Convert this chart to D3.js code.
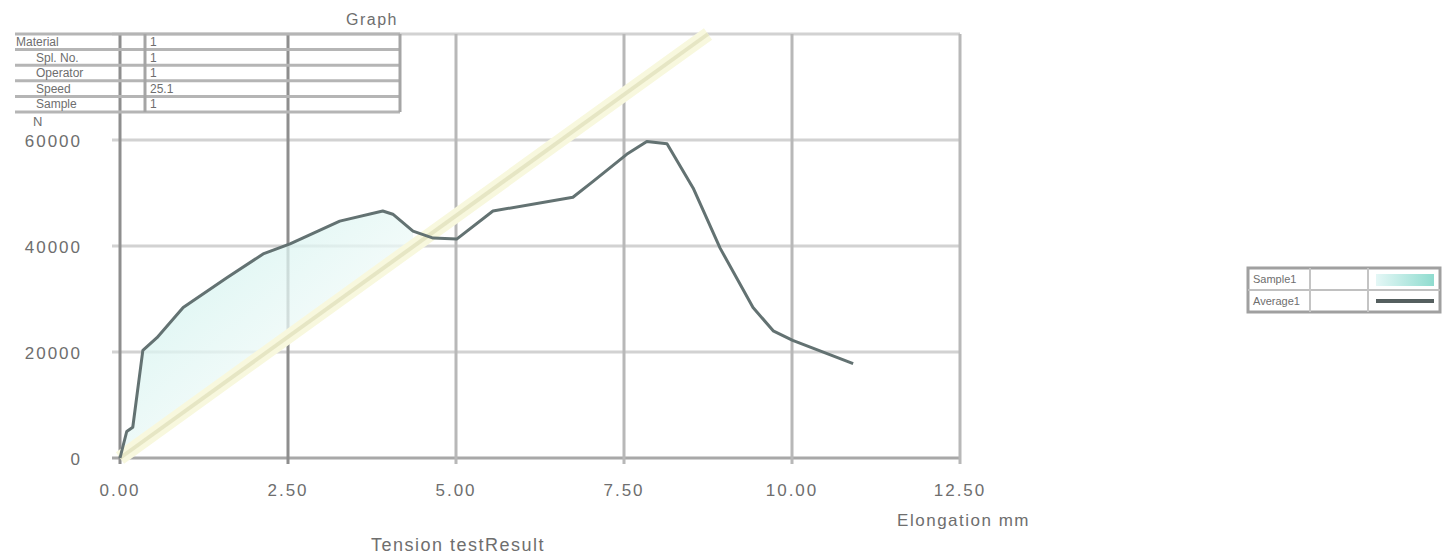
<!DOCTYPE html>
<html>
<head>
<meta charset="utf-8">
<script src="https://cdn.jsdelivr.net/npm/d3@7"></script>
<style>
  html, body { margin: 0; padding: 0; background: #ffffff; }
  svg { display: block; }
  text { font-family: "Liberation Sans", Arial, sans-serif; fill: #6e6e6e; }
</style>
</head>
<body>
<svg id="chart" width="1443" height="556"></svg>
<script>
// ---------------- data ----------------
const title = "Graph";
const xLabel = "Elongation mm";
const bottomLabel = "Tension testResult";
const yUnit = "N";
const xTicks = [0, 2.5, 5, 7.5, 10, 12.5];
const yTicks = [0, 20000, 40000, 60000];
const yGrid = [0, 20000, 40000, 60000, 80000];

// measured force/elongation curve
const elongation = [0, 0.10, 0.19, 0.34, 0.55, 0.94, 1.59, 2.13, 2.53, 3.27, 3.91, 4.06, 4.36, 4.66, 5.01, 5.55, 6.74, 7.04, 7.54, 7.84, 8.14, 8.53, 8.93, 9.42, 9.72, 10.01, 10.91];
const force      = [0, 5000, 5800, 20300, 22700, 28400, 34000, 38500, 40400, 44700, 46600, 46000, 42800, 41500, 41300, 46600, 49200, 52200, 57300, 59700, 59300, 50900, 39600, 28400, 24000, 22200, 17800];

// straight reference (modulus) line
const fitX = [0, 8.75];
const fitY = [0, 80000];

// info table (top-left)
const tableLabels = ["Material", "Spl. No.", "Operator", "Speed", "Sample"];
const tableValues = ["1", "1", "1", "25.1", "1"];

// legend
const legendLabels = ["Sample1", "Average1"];
const legendKinds = ["area", "line"];

// ---------------- drawing ----------------
const svg = d3.select("#chart");
const x = d3.scaleLinear().domain([0, 12.5]).range([120, 960]);
const y = d3.scaleLinear().domain([0, 80000]).range([458, 34]);

const defs = svg.append("defs");
const grad = defs.append("linearGradient").attr("id", "fillGrad")
  .attr("x1", "0").attr("y1", "0").attr("x2", "1").attr("y2", "1");
grad.append("stop").attr("offset", "0%").attr("stop-color", "#c4efea");
grad.append("stop").attr("offset", "55%").attr("stop-color", "#ecf9f7");
grad.append("stop").attr("offset", "100%").attr("stop-color", "#fdfffb");

const legGrad = defs.append("linearGradient").attr("id", "legGrad")
  .attr("x1", "0").attr("y1", "0").attr("x2", "1").attr("y2", "0");
legGrad.append("stop").attr("offset", "0%").attr("stop-color", "#e4f7f6");
legGrad.append("stop").attr("offset", "100%").attr("stop-color", "#8fdccf");

// grid
svg.append("g").selectAll("line").data(yGrid).join("line")
  .attr("x1", x(0) - 8).attr("x2", x(12.5))
  .attr("y1", d => y(d)).attr("y2", d => y(d))
  .attr("stroke", d => d === 0 ? "#a8a8a8" : "#d2d2d2").attr("stroke-width", 3);

svg.append("g").selectAll("line").data(xTicks).join("line")
  .attr("x1", d => x(d)).attr("x2", d => x(d))
  .attr("y1", y(80000)).attr("y2", y(0) + 6)
  .attr("stroke", (d, i) => i < 2 ? "#8e8e8e" : "#b8b8b8").attr("stroke-width", 3);

// fill between curve and the reference line while the curve is above it
const slope = fitY[1] / fitX[1];
const fillPts = [];
for (let i = 0; i < elongation.length; i++) {
  if (force[i] >= slope * elongation[i]) fillPts.push([elongation[i], force[i]]);
  else break;
}
const areaGen = d3.area()
  .x(d => x(d[0]))
  .y0(d => y(Math.min(slope * d[0], d[1])))
  .y1(d => y(d[1]));
svg.append("path").datum(fillPts).attr("d", areaGen)
  .attr("fill", "url(#fillGrad)").attr("opacity", 0.75);

// reference line (soft yellow band)
const fitData = fitX.map((d, i) => [d, fitY[i]]);
const lineGen = d3.line().x(d => x(d[0])).y(d => y(d[1]));
svg.append("path").datum(fitData).attr("d", lineGen)
  .attr("fill", "none").attr("stroke", "#f8f8de").attr("stroke-width", 14);
svg.append("path").datum(fitData).attr("d", lineGen)
  .attr("fill", "none").attr("stroke", "#e6e6c4").attr("stroke-width", 4);

// measured curve
const curve = elongation.map((d, i) => [d, force[i]]);
svg.append("path").datum(curve).attr("d", lineGen)
  .attr("fill", "none").attr("stroke", "#637272").attr("stroke-width", 3)
  .attr("stroke-linejoin", "round");

// axis tick labels
svg.append("g").selectAll("text").data(xTicks).join("text")
  .attr("x", d => x(d)).attr("y", 496)
  .attr("text-anchor", "middle").attr("font-size", 17).attr("letter-spacing", 2)
  .text(d => d3.format(".2f")(d));

svg.append("g").selectAll("text").data(yTicks).join("text")
  .attr("x", 82).attr("y", d => y(d) + 7)
  .attr("text-anchor", "end").attr("font-size", 17).attr("letter-spacing", 2)
  .text(d => String(d));

svg.append("text").attr("x", 33).attr("y", 126).attr("font-size", 13).text(yUnit);

svg.append("text").attr("x", 1030).attr("y", 526).attr("text-anchor", "end")
  .attr("font-size", 17).attr("letter-spacing", 1.5).text(xLabel);
svg.append("text").attr("x", 458).attr("y", 551).attr("text-anchor", "middle")
  .attr("font-size", 18).attr("letter-spacing", 1.5).text(bottomLabel);
svg.append("text").attr("x", 372).attr("y", 25).attr("text-anchor", "middle")
  .attr("font-size", 16).attr("letter-spacing", 1.5).text(title);

// info table
const rowY = d3.scaleBand().domain(d3.range(tableLabels.length)).range([34, 112]);
const tbl = svg.append("g");
tbl.selectAll("line.row").data(d3.range(tableLabels.length + 1)).join("line")
  .attr("x1", 15).attr("x2", 400)
  .attr("y1", i => i < tableLabels.length ? rowY(i) : 112)
  .attr("y2", i => i < tableLabels.length ? rowY(i) : 112)
  .attr("stroke", "#b5b5b5").attr("stroke-width", 3);
[145, 400].forEach(cx => {
  tbl.append("line").attr("x1", cx).attr("x2", cx).attr("y1", 34).attr("y2", 112)
    .attr("stroke", "#a5a5a5").attr("stroke-width", 3);
});
tbl.selectAll("text.lab").data(tableLabels).join("text")
  .attr("x", (d, i) => i === 0 ? 16 : 36).attr("y", (d, i) => rowY(i) + 12)
  .attr("font-size", 12).text(d => d);
tbl.selectAll("text.val").data(tableValues).join("text")
  .attr("x", 150).attr("y", (d, i) => rowY(i) + 12)
  .attr("font-size", 12).text(d => d);

// legend
const lg = svg.append("g").attr("transform", "translate(1248,268)");
lg.append("rect").attr("width", 192).attr("height", 44)
  .attr("fill", "#ffffff").attr("stroke", "#a0a0a0").attr("stroke-width", 3);
lg.append("line").attr("x1", 0).attr("x2", 192).attr("y1", 22).attr("y2", 22)
  .attr("stroke", "#c0c0c0").attr("stroke-width", 2);
[62, 120].forEach(cx => lg.append("line").attr("x1", cx).attr("x2", cx).attr("y1", 0).attr("y2", 44)
  .attr("stroke", "#c4c4c4").attr("stroke-width", 2));
lg.selectAll("text").data(legendLabels).join("text")
  .attr("x", 5).attr("y", (d, i) => 15 + i * 22).attr("font-size", 11).text(d => d);
legendKinds.forEach((k, i) => {
  if (k === "area") {
    lg.append("rect").attr("x", 128).attr("y", 6).attr("width", 58).attr("height", 12)
      .attr("fill", "url(#legGrad)");
  } else {
    lg.append("line").attr("x1", 128).attr("x2", 186).attr("y1", 33).attr("y2", 33)
      .attr("stroke", "#555f5f").attr("stroke-width", 4);
  }
});
</script>
</body>
</html>
